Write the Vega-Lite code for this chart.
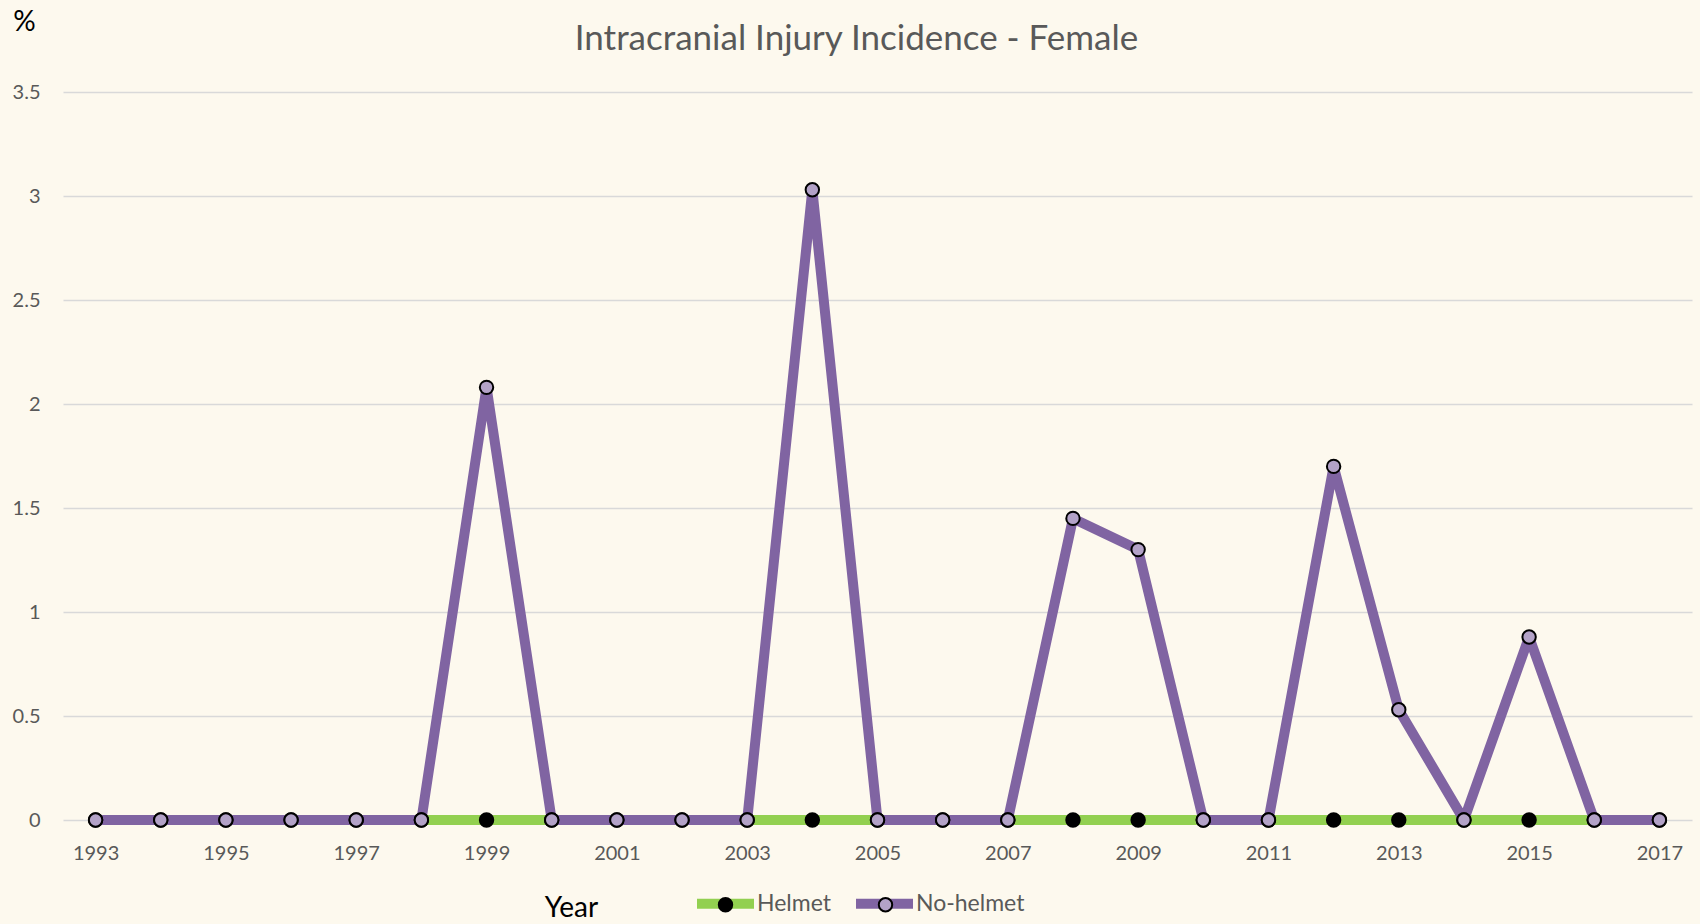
{
  "$schema": "https://vega.github.io/schema/vega-lite/v6.json",
  "width": 1629,
  "height": 728,
  "autosize": {"type": "none"},
  "padding": {"left": 63, "top": 92, "right": 8, "bottom": 104},
  "background": "#fdf9ee",
  "title": {
    "text": "Intracranial Injury Incidence - Female",
    "font": "Lato",
    "fontSize": 35,
    "fontWeight": "normal",
    "color": "#595959",
    "anchor": "middle",
    "offset": -49,
    "dx": -21
  },
  "config": {
    "view": {"stroke": null},
    "axis": {"labelFont": "Lato", "labelColor": "#595959", "titleFont": "Lato"}
  },
  "data": {
    "values": [
      {"year": 1993, "series": "Helmet", "value": 0},
      {"year": 1994, "series": "Helmet", "value": 0},
      {"year": 1995, "series": "Helmet", "value": 0},
      {"year": 1996, "series": "Helmet", "value": 0},
      {"year": 1997, "series": "Helmet", "value": 0},
      {"year": 1998, "series": "Helmet", "value": 0},
      {"year": 1999, "series": "Helmet", "value": 0},
      {"year": 2000, "series": "Helmet", "value": 0},
      {"year": 2001, "series": "Helmet", "value": 0},
      {"year": 2002, "series": "Helmet", "value": 0},
      {"year": 2003, "series": "Helmet", "value": 0},
      {"year": 2004, "series": "Helmet", "value": 0},
      {"year": 2005, "series": "Helmet", "value": 0},
      {"year": 2006, "series": "Helmet", "value": 0},
      {"year": 2007, "series": "Helmet", "value": 0},
      {"year": 2008, "series": "Helmet", "value": 0},
      {"year": 2009, "series": "Helmet", "value": 0},
      {"year": 2010, "series": "Helmet", "value": 0},
      {"year": 2011, "series": "Helmet", "value": 0},
      {"year": 2012, "series": "Helmet", "value": 0},
      {"year": 2013, "series": "Helmet", "value": 0},
      {"year": 2014, "series": "Helmet", "value": 0},
      {"year": 2015, "series": "Helmet", "value": 0},
      {"year": 2016, "series": "Helmet", "value": 0},
      {"year": 2017, "series": "Helmet", "value": 0},
      {"year": 1993, "series": "No-helmet", "value": 0},
      {"year": 1994, "series": "No-helmet", "value": 0},
      {"year": 1995, "series": "No-helmet", "value": 0},
      {"year": 1996, "series": "No-helmet", "value": 0},
      {"year": 1997, "series": "No-helmet", "value": 0},
      {"year": 1998, "series": "No-helmet", "value": 0},
      {"year": 1999, "series": "No-helmet", "value": 2.08},
      {"year": 2000, "series": "No-helmet", "value": 0},
      {"year": 2001, "series": "No-helmet", "value": 0},
      {"year": 2002, "series": "No-helmet", "value": 0},
      {"year": 2003, "series": "No-helmet", "value": 0},
      {"year": 2004, "series": "No-helmet", "value": 3.03},
      {"year": 2005, "series": "No-helmet", "value": 0},
      {"year": 2006, "series": "No-helmet", "value": 0},
      {"year": 2007, "series": "No-helmet", "value": 0},
      {"year": 2008, "series": "No-helmet", "value": 1.45},
      {"year": 2009, "series": "No-helmet", "value": 1.3},
      {"year": 2010, "series": "No-helmet", "value": 0},
      {"year": 2011, "series": "No-helmet", "value": 0},
      {"year": 2012, "series": "No-helmet", "value": 1.7},
      {"year": 2013, "series": "No-helmet", "value": 0.53},
      {"year": 2014, "series": "No-helmet", "value": 0},
      {"year": 2015, "series": "No-helmet", "value": 0.88},
      {"year": 2016, "series": "No-helmet", "value": 0},
      {"year": 2017, "series": "No-helmet", "value": 0}
    ]
  },
  "encoding": {
    "x": {
      "field": "year",
      "type": "ordinal",
      "scale": {"type": "point", "padding": 0.5},
      "axis": {
        "values": [1993, 1995, 1997, 1999, 2001, 2003, 2005, 2007, 2009, 2011, 2013, 2015, 2017],
        "labelAngle": 0,
        "labelFontSize": 20,
        "labelPadding": 23,
        "ticks": false,
        "tickSize": 0,
        "domain": false,
        "grid": false,
        "title": "Year",
        "titleFontSize": 28,
        "titleFontWeight": "normal",
        "titleColor": "#000000",
        "titleX": 508,
        "titleY": 88,
        "titleAlign": "center",
        "titleBaseline": "middle"
      }
    },
    "y": {
      "field": "value",
      "type": "quantitative",
      "scale": {"domain": [0, 3.5], "nice": false},
      "axis": {
        "values": [0, 0.5, 1, 1.5, 2, 2.5, 3, 3.5],
        "format": "~g",
        "labelFontSize": 20,
        "labelPadding": 23,
        "ticks": false,
        "tickSize": 0,
        "domain": false,
        "grid": true,
        "gridColor": "#d9d9d9",
        "gridWidth": 1.5,
        "title": "%",
        "titleAngle": 0,
        "titleFontSize": 28,
        "titleFontWeight": "normal",
        "titleColor": "#000000",
        "titleX": -39,
        "titleY": -70,
        "titleAlign": "center",
        "titleBaseline": "middle"
      }
    }
  },
  "layer": [
    {
      "mark": {"type": "line", "strokeWidth": 10, "strokeJoin": "round"},
      "encoding": {
        "color": {
          "field": "series",
          "type": "nominal",
          "scale": {"domain": ["Helmet", "No-helmet"], "range": ["#92d050", "#8064a2"]},
          "legend": {
            "orient": "none",
            "legendX": 629,
            "legendY": 778,
            "direction": "horizontal",
            "title": null,
            "padding": 0,
            "symbolType": "stroke",
            "symbolSize": 3249,
            "symbolStrokeWidth": 10,
            "labelFont": "Lato",
            "labelFontSize": 23,
            "labelColor": "#595959",
            "labelOffset": -2,
            "columnPadding": 4
          }
        }
      }
    },
    {
      "mark": {"type": "point", "shape": "circle", "filled": true, "size": 180, "stroke": "#000000", "strokeWidth": 2, "opacity": 1},
      "encoding": {
        "fill": {
          "field": "series",
          "type": "nominal",
          "scale": {"range": ["#000000", "#b3a2c7"]},
          "legend": {
            "orient": "none",
            "legendX": 651,
            "legendY": 801,
            "direction": "horizontal",
            "title": null,
            "padding": 0,
            "symbolType": "circle",
            "symbolSize": 180,
            "symbolStrokeColor": "#000000",
            "symbolStrokeWidth": 2,
            "symbolOpacity": 1,
            "labelExpr": "''",
            "labelFontSize": 23,
            "labelOffset": 0,
            "columnPadding": 137
          }
        }
      }
    }
  ]
}
